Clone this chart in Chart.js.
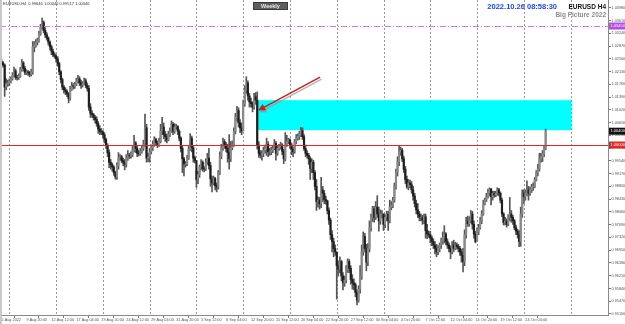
<!DOCTYPE html>
<html>
<head>
<meta charset="utf-8">
<script src="https://cdn.jsdelivr.net/npm/chart.js@4.4.1/dist/chart.umd.min.js"></script>
<style>
html, body { margin: 0; padding: 0; background: #fff; }
#wrap { position: relative; width: 625px; height: 324px; }
</style>
</head>
<body>
<div id="wrap"><canvas id="fxChart" width="625" height="324"></canvas></div>
<script>
// EURUSD H4, 5 Aug 2022 00:00 .. 26 Oct 2022 08:00 (6 bars per day)
const firstOpen = 1.0245;
const closes = [
    1.0242, 1.0238, 1.0232, 1.0168, 1.0178, 1.0180,
    1.0185, 1.0192, 1.0202, 1.0215, 1.0196, 1.0195,
    1.0200, 1.0218, 1.0238, 1.0222, 1.0210, 1.0212,
    1.0210, 1.0205, 1.0212, 1.0285, 1.0290, 1.0298,
    1.0302, 1.0322, 1.0342, 1.0356, 1.0332, 1.0320,
    1.0310, 1.0298, 1.0285, 1.0272, 1.0262, 1.0258,
    1.0250, 1.0236, 1.0212, 1.0190, 1.0168, 1.0160,
    1.0155, 1.0148, 1.0135, 1.0162, 1.0172, 1.0170,
    1.0176, 1.0186, 1.0192, 1.0180, 1.0174, 1.0178,
    1.0186, 1.0172, 1.0164, 1.0110, 1.0092, 1.0088,
    1.0080, 1.0074, 1.0062, 1.0046, 1.0040, 1.0038,
    1.0030, 1.0016, 0.9998, 0.9978, 0.9950, 0.9943,
    0.9936, 0.9920, 0.9908, 0.9940, 0.9962, 0.9966,
    0.9955, 0.9950, 0.9944, 0.9960, 0.9970, 0.9968,
    0.9972, 0.9986, 1.0006, 0.9990, 0.9976, 0.9975,
    0.9982, 0.9990, 1.0002, 1.0050, 0.9962, 0.9965,
    0.9980, 0.9992, 1.0002, 1.0016, 1.0006, 1.0000,
    1.0010, 1.0040, 1.0052, 1.0030, 1.0024, 1.0015,
    1.0030, 1.0040, 1.0060, 1.0040, 1.0052, 1.0054,
    1.0040, 1.0020, 0.9990, 0.9960, 0.9945, 0.9945,
    0.9962, 0.9988, 1.0020, 0.9992, 0.9962, 0.9955,
    0.9900, 0.9914, 0.9936, 0.9950, 0.9932, 0.9930,
    0.9950, 0.9962, 0.9940, 0.9902, 0.9890, 0.9903,
    0.9882, 0.9878, 0.9920, 0.9968, 0.9992, 1.0010,
    1.0000, 0.9990, 0.9978, 0.9960, 0.9992, 1.0000,
    1.0040, 1.0080, 1.0100, 1.0064, 1.0050, 1.0040,
    1.0120, 1.0160, 1.0180, 1.0142, 1.0125, 1.0120,
    1.0110, 1.0140, 1.0130, 1.0000, 0.9976, 0.9970,
    0.9975, 0.9984, 0.9990, 1.0002, 0.9980, 0.9980,
    0.9985, 0.9990, 1.0005, 0.9976, 0.9990, 0.9995,
    1.0000, 0.9982, 0.9960, 1.0000, 1.0010, 1.0015,
    1.0000, 0.9988, 0.9980, 1.0010, 1.0020, 1.0025,
    1.0030, 1.0042, 1.0024, 0.9990, 0.9976, 0.9970,
    0.9960, 0.9932, 0.9950, 0.9920, 0.9880, 0.9836,
    0.9840, 0.9830, 0.9870, 0.9860, 0.9842, 0.9838,
    0.9810, 0.9782, 0.9740, 0.9720, 0.9700, 0.9690,
    0.9650, 0.9640, 0.9662, 0.9620, 0.9600, 0.9608,
    0.9640, 0.9662, 0.9642, 0.9610, 0.9600, 0.9595,
    0.9572, 0.9550, 0.9582, 0.9620, 0.9690, 0.9735,
    0.9700, 0.9660, 0.9700, 0.9760, 0.9790, 0.9815,
    0.9790, 0.9820, 0.9800, 0.9780, 0.9800, 0.9800,
    0.9770, 0.9790, 0.9800, 0.9780, 0.9820, 0.9825,
    0.9840, 0.9880, 0.9922, 0.9952, 0.9980, 0.9985,
    0.9960, 0.9930, 0.9900, 0.9880, 0.9890, 0.9885,
    0.9870, 0.9852, 0.9830, 0.9812, 0.9800, 0.9790,
    0.9790, 0.9782, 0.9792, 0.9752, 0.9742, 0.9740,
    0.9730, 0.9720, 0.9710, 0.9700, 0.9690, 0.9700,
    0.9710, 0.9722, 0.9732, 0.9742, 0.9720, 0.9710,
    0.9700, 0.9690, 0.9710, 0.9700, 0.9710, 0.9705,
    0.9700, 0.9690, 0.9680, 0.9662, 0.9740, 0.9780,
    0.9772, 0.9782, 0.9800, 0.9770, 0.9742, 0.9720,
    0.9750, 0.9760, 0.9780, 0.9800, 0.9830, 0.9840,
    0.9850, 0.9862, 0.9872, 0.9850, 0.9860, 0.9855,
    0.9860, 0.9870, 0.9860, 0.9840, 0.9800, 0.9775,
    0.9780, 0.9770, 0.9790, 0.9800, 0.9790, 0.9780,
    0.9760, 0.9750, 0.9740, 0.9720, 0.9800, 0.9860,
    0.9850, 0.9860, 0.9870, 0.9860, 0.9870, 0.9878,
    0.9880, 0.9900, 0.9920, 0.9930, 0.9960, 0.9965,
    0.9975, 0.9990, 1.0040
];
const highs = [
    1.0252, 1.0248, 1.0242, 1.0235, 1.0192, 1.0188,
    1.0192, 1.0198, 1.0210, 1.0226, 1.0220, 1.0202,
    1.0206, 1.0225, 1.0248, 1.0242, 1.0228, 1.0218,
    1.0216, 1.0214, 1.0220, 1.0300, 1.0300, 1.0306,
    1.0310, 1.0330, 1.0350, 1.0368, 1.0360, 1.0340,
    1.0326, 1.0314, 1.0302, 1.0290, 1.0278, 1.0268,
    1.0262, 1.0256, 1.0240, 1.0216, 1.0194, 1.0172,
    1.0166, 1.0160, 1.0152, 1.0170, 1.0182, 1.0178,
    1.0182, 1.0194, 1.0202, 1.0198, 1.0188, 1.0184,
    1.0194, 1.0192, 1.0180, 1.0172, 1.0120, 1.0100,
    1.0092, 1.0086, 1.0082, 1.0068, 1.0056, 1.0048,
    1.0042, 1.0036, 1.0020, 1.0004, 0.9986, 0.9958,
    0.9948, 0.9940, 0.9924, 0.9948, 0.9978, 0.9972,
    0.9970, 0.9962, 0.9958, 0.9972, 0.9984, 0.9976,
    0.9980, 0.9996, 1.0028, 1.0010, 0.9996, 0.9984,
    0.9990, 0.9998, 1.0014, 1.0090, 1.0060, 0.9976,
    0.9990, 1.0000, 1.0012, 1.0024, 1.0020, 1.0012,
    1.0020, 1.0060, 1.0080, 1.0064, 1.0040, 1.0032,
    1.0040, 1.0050, 1.0070, 1.0066, 1.0062, 1.0060,
    1.0056, 1.0044, 1.0024, 0.9996, 0.9964, 0.9952,
    0.9970, 0.9996, 1.0033, 1.0026, 0.9996, 0.9968,
    0.9924, 0.9924, 0.9942, 0.9958, 0.9954, 0.9938,
    0.9960, 0.9976, 0.9990, 0.9950, 0.9910, 0.9910,
    0.9906, 0.9890, 0.9926, 0.9980, 1.0002, 1.0020,
    1.0016, 1.0008, 1.0002, 1.0030, 1.0010, 1.0012,
    1.0050, 1.0092, 1.0112, 1.0108, 1.0074, 1.0064,
    1.0130, 1.0172, 1.0198, 1.0186, 1.0150, 1.0136,
    1.0126, 1.0150, 1.0152, 1.0154, 1.0010, 0.9984,
    0.9984, 0.9994, 1.0000, 1.0020, 1.0010, 0.9990,
    0.9994, 0.9998, 1.0016, 1.0010, 0.9998, 1.0002,
    1.0008, 1.0004, 0.9988, 1.0036, 1.0028, 1.0020,
    1.0018, 1.0006, 0.9994, 1.0016, 1.0030, 1.0032,
    1.0040, 1.0051, 1.0050, 1.0030, 1.0000, 0.9984,
    0.9976, 0.9966, 0.9960, 0.9956, 0.9926, 0.9900,
    0.9850, 0.9848, 0.9906, 0.9880, 0.9868, 0.9852,
    0.9840, 0.9818, 0.9788, 0.9752, 0.9730, 0.9710,
    0.9680, 0.9664, 0.9676, 0.9666, 0.9630, 0.9620,
    0.9650, 0.9670, 0.9668, 0.9650, 0.9624, 0.9612,
    0.9600, 0.9580, 0.9592, 0.9650, 0.9710, 0.9748,
    0.9744, 0.9712, 0.9714, 0.9780, 0.9800, 0.9822,
    0.9822, 0.9836, 0.9853, 0.9820, 0.9812, 0.9810,
    0.9800, 0.9798, 0.9808, 0.9808, 0.9840, 0.9836,
    0.9848, 0.9890, 0.9930, 0.9966, 0.9999, 0.9994,
    0.9990, 0.9968, 0.9938, 0.9910, 0.9900, 0.9898,
    0.9894, 0.9880, 0.9860, 0.9840, 0.9830, 0.9808,
    0.9800, 0.9796, 0.9800, 0.9800, 0.9770, 0.9750,
    0.9750, 0.9736, 0.9728, 0.9720, 0.9712, 0.9708,
    0.9716, 0.9730, 0.9748, 0.9766, 0.9746, 0.9728,
    0.9716, 0.9708, 0.9720, 0.9724, 0.9718, 0.9716,
    0.9712, 0.9706, 0.9698, 0.9700, 0.9754, 0.9790,
    0.9794, 0.9792, 0.9810, 0.9808, 0.9780, 0.9750,
    0.9760, 0.9770, 0.9790, 0.9810, 0.9840, 0.9846,
    0.9860, 0.9872, 0.9876, 0.9874, 0.9866, 0.9866,
    0.9866, 0.9876, 0.9874, 0.9864, 0.9846, 0.9804,
    0.9790, 0.9786, 0.9798, 0.9848, 0.9810, 0.9796,
    0.9784, 0.9768, 0.9756, 0.9752, 0.9820, 0.9870,
    0.9870, 0.9870, 0.9896, 0.9880, 0.9878, 0.9886,
    0.9890, 0.9906, 0.9926, 0.9944, 0.9976, 0.9976,
    0.9984, 0.9996, 1.0046
];
const lows = [
    1.0236, 1.0230, 1.0226, 1.0141, 1.0160, 1.0170,
    1.0172, 1.0180, 1.0188, 1.0198, 1.0190, 1.0188,
    1.0190, 1.0196, 1.0214, 1.0214, 1.0204, 1.0204,
    1.0202, 1.0198, 1.0200, 1.0205, 1.0270, 1.0284,
    1.0290, 1.0298, 1.0318, 1.0336, 1.0325, 1.0312,
    1.0304, 1.0290, 1.0276, 1.0262, 1.0256, 1.0252,
    1.0240, 1.0228, 1.0204, 1.0180, 1.0160, 1.0150,
    1.0146, 1.0140, 1.0122, 1.0130, 1.0158, 1.0162,
    1.0164, 1.0172, 1.0180, 1.0172, 1.0164, 1.0168,
    1.0176, 1.0166, 1.0156, 1.0100, 1.0080, 1.0080,
    1.0072, 1.0064, 1.0054, 1.0034, 1.0030, 1.0030,
    1.0020, 1.0006, 0.9990, 0.9966, 0.9934, 0.9930,
    0.9924, 0.9912, 0.9901, 0.9900, 0.9930, 0.9956,
    0.9948, 0.9940, 0.9928, 0.9936, 0.9955, 0.9960,
    0.9962, 0.9966, 0.9980, 0.9978, 0.9966, 0.9968,
    0.9970, 0.9976, 0.9984, 0.9996, 0.9950, 0.9952,
    0.9950, 0.9974, 0.9984, 0.9996, 0.9998, 0.9992,
    0.9996, 1.0006, 1.0030, 1.0018, 1.0010, 1.0006,
    1.0012, 1.0024, 1.0036, 1.0030, 1.0034, 1.0046,
    1.0030, 1.0012, 0.9980, 0.9920, 0.9910, 0.9936,
    0.9940, 0.9958, 0.9984, 0.9980, 0.9950, 0.9948,
    0.9877, 0.9888, 0.9906, 0.9928, 0.9924, 0.9922,
    0.9926, 0.9944, 0.9930, 0.9880, 0.9864, 0.9884,
    0.9870, 0.9864, 0.9872, 0.9914, 0.9960, 0.9984,
    0.9990, 0.9980, 0.9950, 0.9930, 0.9952, 0.9986,
    0.9996, 1.0032, 1.0070, 1.0052, 1.0036, 1.0030,
    1.0078, 1.0112, 1.0150, 1.0130, 1.0110, 1.0110,
    1.0096, 1.0104, 1.0118, 0.9988, 0.9964, 0.9962,
    0.9956, 0.9966, 0.9976, 0.9970, 0.9966, 0.9970,
    0.9972, 0.9978, 0.9986, 0.9956, 0.9970, 0.9984,
    0.9988, 0.9972, 0.9946, 0.9954, 0.9996, 1.0004,
    0.9990, 0.9972, 0.9966, 0.9976, 1.0004, 1.0014,
    1.0016, 1.0024, 1.0016, 0.9984, 0.9966, 0.9962,
    0.9944, 0.9900, 0.9920, 0.9900, 0.9870, 0.9810,
    0.9820, 0.9814, 0.9818, 0.9836, 0.9830, 0.9828,
    0.9800, 0.9770, 0.9726, 0.9690, 0.9676, 0.9680,
    0.9553, 0.9620, 0.9630, 0.9606, 0.9580, 0.9590,
    0.9600, 0.9630, 0.9630, 0.9596, 0.9582, 0.9580,
    0.9560, 0.9536, 0.9544, 0.9570, 0.9610, 0.9680,
    0.9690, 0.9635, 0.9650, 0.9690, 0.9750, 0.9778,
    0.9776, 0.9784, 0.9790, 0.9750, 0.9770, 0.9788,
    0.9752, 0.9760, 0.9780, 0.9752, 0.9774, 0.9812,
    0.9818, 0.9834, 0.9872, 0.9910, 0.9940, 0.9970,
    0.9952, 0.9920, 0.9888, 0.9874, 0.9870, 0.9876,
    0.9860, 0.9840, 0.9820, 0.9800, 0.9790, 0.9780,
    0.9780, 0.9770, 0.9772, 0.9730, 0.9728, 0.9732,
    0.9716, 0.9708, 0.9700, 0.9684, 0.9676, 0.9682,
    0.9690, 0.9700, 0.9712, 0.9716, 0.9710, 0.9700,
    0.9690, 0.9670, 0.9684, 0.9690, 0.9696, 0.9698,
    0.9690, 0.9680, 0.9660, 0.9632, 0.9650, 0.9730,
    0.9764, 0.9764, 0.9774, 0.9756, 0.9730, 0.9716,
    0.9720, 0.9740, 0.9756, 0.9772, 0.9796, 0.9826,
    0.9836, 0.9846, 0.9852, 0.9826, 0.9840, 0.9848,
    0.9850, 0.9854, 0.9852, 0.9832, 0.9792, 0.9768,
    0.9768, 0.9762, 0.9766, 0.9780, 0.9776, 0.9770,
    0.9754, 0.9740, 0.9730, 0.9705, 0.9706, 0.9790,
    0.9830, 0.9840, 0.9852, 0.9840, 0.9854, 0.9862,
    0.9868, 0.9876, 0.9896, 0.9910, 0.9924, 0.9950,
    0.9952, 0.9966, 0.9986
];

// time axis: bar index of each label, and its text
const xTickBars = [1, 17, 33, 49, 65, 81, 97, 113, 129, 145, 161, 177, 193, 209, 225, 241, 257, 273, 289, 305, 321, 337];
const xTickLabels = ["5 Aug 2022", "9 Aug 20:00", "12 Aug 12:00", "17 Aug 04:00", "19 Aug 20:00", "24 Aug 12:00",
    "29 Aug 04:00", "31 Aug 20:00", "5 Sep 12:00", "8 Sep 04:00", "12 Sep 20:00", "15 Sep 12:00",
    "20 Sep 04:00", "22 Sep 20:00", "27 Sep 12:00", "30 Sep 04:00", "4 Oct 20:00", "7 Oct 12:00",
    "12 Oct 04:00", "14 Oct 20:00", "19 Oct 12:00", "24 Oct 04:00"];
const weekStartBars = [6, 36, 66, 96, 126, 156, 186, 216, 246, 276, 306, 336, 366];
const totalSlots = 391; // bars + empty space on the right

const yTicks = [0.95100, 0.95470, 0.95840, 0.96210, 0.96580, 0.96950, 0.97320, 0.97690, 0.98060,
    0.98430, 0.98800, 0.99170, 0.99540, 0.99910, 1.00280, 1.00650, 1.01020, 1.01390, 1.01760,
    1.02130, 1.02500, 1.02870, 1.03240, 1.03610, 1.03980];
const priceMin = 0.9507;
const priceMax = 1.04205;

// drawn objects
const levelLine = 1.0000;
const magentaLine = 1.0345;
const lastPrice = 1.0040;
const zone = { fromBar: 164.8, toBar: 366.3, top: 1.0130, bottom: 1.0043 };
const arrow = { fromBar: 205.3, fromPrice: 1.0197, toBar: 165.5, toPrice: 1.0100 };

const opens = closes.map((c, i) => (i === 0 ? firstOpen : closes[i - 1]));
const slotLabels = Array.from({ length: totalSlots }, (_, i) => String(i));

const ctx = document.getElementById("fxChart");

const mtDecor = {
    id: "mtDecor",
    beforeDatasetsDraw(chart) {
        const { ctx, chartArea: a, scales } = chart;
        const xs = scales.x, ys = scales.y;
        ctx.save();
        // weekly dotted grid
        ctx.strokeStyle = "#9a9a9a";
        ctx.lineWidth = 1;
        ctx.setLineDash([2, 2]);
        weekStartBars.forEach((b) => {
            const x = Math.round(xs.getPixelForValue(b)) + 0.5;
            ctx.beginPath();
            ctx.moveTo(x, a.top);
            ctx.lineTo(x, a.bottom);
            ctx.stroke();
        });
        ctx.setLineDash([]);
        // cyan zone
        const zx1 = xs.getPixelForValue(zone.fromBar);
        const zx2 = xs.getPixelForValue(zone.toBar);
        const zy1 = ys.getPixelForValue(zone.top);
        const zy2 = ys.getPixelForValue(zone.bottom);
        ctx.fillStyle = "#00ffff";
        ctx.fillRect(zx1, zy1, zx2 - zx1, zy2 - zy1);
        ctx.restore();
    },
    afterDatasetsDraw(chart) {
        const { ctx, chartArea: a, scales } = chart;
        const xs = scales.x, ys = scales.y;
        ctx.save();
        // red level line
        let y = Math.round(ys.getPixelForValue(levelLine)) + 0.5;
        ctx.strokeStyle = "#e02828";
        ctx.lineWidth = 1;
        ctx.beginPath();
        ctx.moveTo(a.left, y);
        ctx.lineTo(a.right, y);
        ctx.stroke();
        // magenta dash-dot line
        y = Math.round(ys.getPixelForValue(magentaLine)) + 0.5;
        ctx.strokeStyle = "#cc77ee";
        ctx.setLineDash([6, 2, 1, 2]);
        ctx.beginPath();
        ctx.moveTo(a.left, y);
        ctx.lineTo(a.right, y);
        ctx.stroke();
        ctx.setLineDash([]);

        // arrow with shadow
        const ax1 = xs.getPixelForValue(arrow.fromBar), ay1 = ys.getPixelForValue(arrow.fromPrice);
        const ax2 = xs.getPixelForValue(arrow.toBar), ay2 = ys.getPixelForValue(arrow.toPrice);
        const drawArrow = (dx, dy, color) => {
            const ang = Math.atan2(ay2 - ay1, ax2 - ax1);
            ctx.strokeStyle = color;
            ctx.fillStyle = color;
            ctx.lineWidth = 1.5;
            ctx.beginPath();
            ctx.moveTo(ax1 + dx, ay1 + dy);
            ctx.lineTo(ax2 + dx - Math.cos(ang) * 4, ay2 + dy - Math.sin(ang) * 4);
            ctx.stroke();
            ctx.beginPath();
            ctx.moveTo(ax2 + dx, ay2 + dy);
            ctx.lineTo(ax2 + dx - Math.cos(ang - 0.45) * 8, ay2 + dy - Math.sin(ang - 0.45) * 8);
            ctx.lineTo(ax2 + dx - Math.cos(ang + 0.45) * 8, ay2 + dy - Math.sin(ang + 0.45) * 8);
            ctx.closePath();
            ctx.fill();
        };
        drawArrow(1.5, 2, "rgba(150,150,150,0.7)");
        drawArrow(0, 0, "#cc1f1f");
        ctx.restore();
    },
    afterDraw(chart) {
        const { ctx, chartArea: a, scales } = chart;
        const ys = scales.y;
        ctx.save();
        // left window edge
        ctx.fillStyle = "#c8c8c8";
        ctx.fillRect(0, 0, 2, chart.height);

        // price boxes on the right axis
        const priceBox = (price, bg, fg) => {
            const y = ys.getPixelForValue(price);
            ctx.fillStyle = bg;
            ctx.fillRect(a.right + 1, y - 3.5, 16, 7);
            ctx.fillStyle = fg;
            ctx.font = "4px 'Liberation Sans'";
            ctx.textAlign = "left";
            ctx.textBaseline = "middle";
            ctx.fillText(price.toFixed(5), a.right + 2.5, y);
        };
        priceBox(magentaLine, "#b04fe0", "#fff");
        priceBox(lastPrice, "#111", "#fff");
        priceBox(levelLine, "#e02828", "#fff");

        // top-left symbol line
        ctx.fillStyle = "#333";
        ctx.font = "4px 'Liberation Sans'";
        ctx.textAlign = "left";
        ctx.textBaseline = "middle";
        ctx.fillText("EURUSD,H4  0.99646 1.00046 0.99517 1.00046", 3, 4);

        // Weekly button
        ctx.fillStyle = "#5e5e5e";
        ctx.fillRect(253, 2, 35, 8);
        ctx.strokeStyle = "#3a3a3a";
        ctx.strokeRect(253.5, 2.5, 34, 7);
        ctx.fillStyle = "#e8e8e8";
        ctx.font = "bold 5.5px 'Liberation Sans'";
        ctx.textAlign = "center";
        ctx.fillText("Weekly", 270.5, 6.3);

        // header texts on the right
        ctx.textAlign = "right";
        ctx.fillStyle = "#2244ff";
        ctx.font = "bold 7.5px 'Liberation Sans'";
        ctx.fillText("2022.10.26 08:58:30", 557, 7);
        ctx.fillStyle = "#111";
        ctx.font = "bold 6.5px 'Liberation Sans'";
        ctx.fillText("EURUSD H4", 606, 7);
        ctx.fillStyle = "#8c8c8c";
        ctx.font = "bold 6.5px 'Liberation Sans'";
        ctx.fillText("Big Picture 2022", 606, 15);
        ctx.restore();
    }
};

new Chart(ctx, {
    type: "bar",
    data: {
        labels: slotLabels,
        datasets: [
            {
                label: "wick",
                data: lows.map((l, i) => [l, highs[i]]),
                backgroundColor: "#555",
                barThickness: 1,
                grouped: false,
                order: 2,
            },
            {
                label: "body",
                data: closes.map((c, i) => {
                    const o = opens[i];
                    if (Math.abs(o - c) < 0.00004) return [o - 0.00003, c + 0.00003];
                    return [o, c];
                }),
                backgroundColor: closes.map((c, i) => (c >= opens[i] ? "#8a8a8a" : "#1e1e1e")),
                barThickness: 1.5,
                grouped: false,
                order: 1,
            },
        ],
    },
    options: {
        responsive: false,
        animation: false,
        devicePixelRatio: 1,
        layout: { padding: 0 },
        plugins: {
            legend: { display: false },
            tooltip: { enabled: false },
        },
        scales: {
            x: {
                type: "category",
                offset: false,
                grid: { display: true, drawOnChartArea: false, tickLength: 3, color: "#777" },
                border: { display: true, color: "#8a8a8a" },
                ticks: {
                    autoSkip: false,
                    maxRotation: 0,
                    minRotation: 0,
                    align: "start",
                    padding: 0,
                    color: "#555",
                    font: { size: 3.8, family: "Liberation Sans" },
                    callback: (v, idx) => xTickLabels[idx],
                },
                afterBuildTicks: (s) => {
                    s.ticks = xTickBars.map((b) => ({ value: b }));
                },
                afterFit: (s) => {
                    s.height = 9;
                    s.paddingLeft = 0;
                    s.paddingRight = 0;
                },
            },
            y: {
                position: "right",
                min: priceMin,
                max: priceMax,
                grid: { display: true, drawOnChartArea: false, tickLength: 3, color: "#777" },
                border: { display: true, color: "#8a8a8a" },
                ticks: {
                    padding: 0.5,
                    color: "#555",
                    font: { size: 3.8, family: "Liberation Sans" },
                    callback: (v) => v.toFixed(5),
                },
                afterBuildTicks: (s) => {
                    s.ticks = yTicks.map((v) => ({ value: v }));
                },
                afterFit: (s) => {
                    s.width = 17;
                    s.paddingTop = 0;
                    s.paddingBottom = 0;
                },
            },
        },
    },
    plugins: [mtDecor],
});
</script>
</body>
</html>
